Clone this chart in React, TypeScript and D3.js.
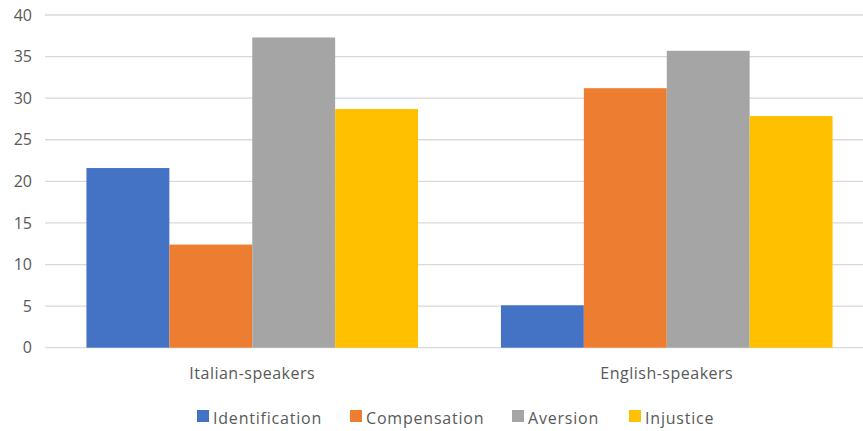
import React from "react";
import * as d3 from "d3";

const groups = ["Italian-speakers", "English-speakers"];
const seriesNames = ["Identification", "Compensation", "Aversion", "Injustice"];
const colors = ["#4472C4", "#ED7D31", "#A5A5A5", "#FFC000"];
const italian = [21.6, 12.4, 37.3, 28.7];
const english = [5.1, 31.2, 35.7, 27.85];
const yTicks = [0, 5, 10, 15, 20, 25, 30, 35, 40];

const W = 863;
const H = 431;
const FONT = "'Open Sans', sans-serif";

export default function App() {
  const values = [italian, english];
  const x0 = d3.scaleBand<string>().domain(groups).range([45, 874]).paddingInner(0.2).paddingOuter(0.1);
  const x1 = d3.scaleBand<string>().domain(seriesNames).range([0, x0.bandwidth()]);
  const y = d3.scaleLinear().domain([0, 40]).range([347.7, 15]);

  const legendX = [197, 350, 512, 629];

  return (
    <svg width={W} height={H} style={{ position: "absolute", left: 0, top: 0, background: "#fff" }}>
      {yTicks.map((t) => (
        <g key={t}>
          <line x1={45} x2={W} y1={y(t)} y2={y(t)} stroke="#D9D9D9" strokeWidth={1.3} />
          <text x={32} y={y(t)} dy="0.35em" textAnchor="end" fontFamily={FONT} fontSize={16} fill="#595959">
            {t}
          </text>
        </g>
      ))}
      {groups.map((g, gi) => (
        <g key={g} transform={`translate(${x0(g)},0)`}>
          {seriesNames.map((s, si) => (
            <rect
              key={s}
              x={x1(s)}
              y={y(values[gi][si])}
              width={x1.bandwidth()}
              height={y(0) - y(values[gi][si])}
              fill={colors[si]}
            />
          ))}
          <text x={x0.bandwidth() / 2} y={379} textAnchor="middle" fontFamily={FONT} fontSize={16} letterSpacing={0.5} fill="#595959">
            {g}
          </text>
        </g>
      ))}
      {seriesNames.map((s, si) => (
        <g key={s} transform={`translate(${legendX[si]},0)`}>
          <rect x={0} y={410} width={12} height={12} fill={colors[si]} />
          <text x={16} y={424} fontFamily={FONT} fontSize={16} letterSpacing={0.8} fill="#595959">
            {s}
          </text>
        </g>
      ))}
    </svg>
  );
}
